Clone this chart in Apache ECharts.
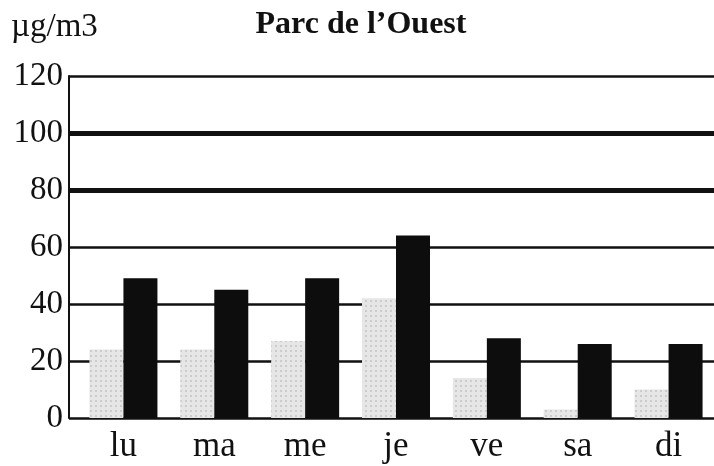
<!DOCTYPE html>
<html>
<head>
<meta charset="utf-8">
<script src="https://cdn.jsdelivr.net/npm/echarts@6/dist/echarts.min.js"></script>
<style>
    html, body { margin: 0; padding: 0; background: #fff; }
    #main { width: 714px; height: 466px; }
</style>
</head>
<body>
<div id="main"></div>
<script>
// jours de la semaine
var days = ['lu', 'ma', 'me', 'je', 've', 'sa', 'di'];
// barres grises (pointillées)
var greyValues = [24, 24, 27, 42, 14, 3, 10];
// barres noires
var blackValues = [49, 45, 49, 64, 28, 26, 26];
// lignes épaisses du quadrillage
var thickLines = [80, 100];

var chartDom = document.getElementById('main');
var myChart = echarts.init(chartDom);
var serif = '"Liberation Serif", "DejaVu Serif", serif';

var option = {
    animation: false,
    backgroundColor: '#fff',
    title: [
        {
            text: 'Parc de l\u2019Ouest',
            left: 356,
            top: 4,
            textAlign: 'center',
            textStyle: { fontFamily: serif, fontSize: 32, fontWeight: 'bold', color: '#111' }
        },
        {
            text: '\u00b5g/m3',
            left: 6,
            top: 6,
            textStyle: { fontFamily: serif, fontSize: 33, fontWeight: 'normal', color: '#111' }
        }
    ],
    // grille 0 : axe vertical et quadrillage, grille 1 : les barres
    grid: [
        { left: 69, right: 0, top: 76, bottom: 48 },
        { left: 78, right: 0, top: 76, bottom: 48 }
    ],
    xAxis: [
        {
            type: 'category',
            gridIndex: 0,
            data: days,
            show: false
        },
        {
            type: 'category',
            gridIndex: 1,
            data: days,
            axisLine: { show: false },
            axisTick: { show: false },
            axisLabel: {
                fontFamily: serif,
                fontSize: 35,
                color: '#111',
                margin: 11
            }
        }
    ],
    yAxis: [
        {
            type: 'value',
            gridIndex: 0,
            min: 0,
            max: 120,
            interval: 20,
            axisLine: { show: true, lineStyle: { color: '#111', width: 2 } },
            axisTick: { show: false },
            axisLabel: {
                fontFamily: serif,
                fontSize: 33,
                color: '#111',
                margin: 6
            },
            splitLine: { show: true, lineStyle: { color: '#111', width: 2.6 } }
        },
        {
            type: 'value',
            gridIndex: 1,
            min: 0,
            max: 120,
            interval: 20,
            show: false,
            splitLine: { show: false }
        }
    ],
    series: [
        {
            name: 'quadrillage',
            type: 'line',
            xAxisIndex: 0,
            yAxisIndex: 0,
            data: [],
            markLine: {
                silent: true,
                symbol: 'none',
                label: { show: false },
                lineStyle: { color: '#111', width: 5, type: 'solid' },
                data: thickLines.map(function (v) { return { yAxis: v }; })
            }
        },
        {
            name: 'gris',
            type: 'bar',
            xAxisIndex: 1,
            yAxisIndex: 1,
            barWidth: 34,
            barGap: '0%',
            data: greyValues,
            itemStyle: {
                color: '#e6e6e6',
                decal: {
                    symbol: 'rect',
                    symbolSize: 0.7,
                    color: 'rgba(140,140,140,0.55)',
                    dashArrayX: [[2, 3]],
                    dashArrayY: [2, 3],
                    rotation: 0
                }
            },
            z: 3
        },
        {
            name: 'noir',
            type: 'bar',
            xAxisIndex: 1,
            yAxisIndex: 1,
            barWidth: 34,
            data: blackValues,
            itemStyle: { color: '#0d0d0d' },
            z: 3
        }
    ]
};

option && myChart.setOption(option);
</script>
</body>
</html>
